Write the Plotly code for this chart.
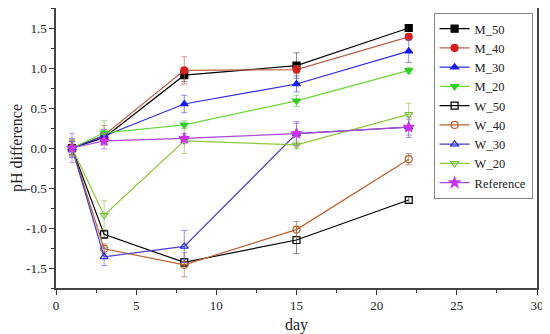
import plotly.graph_objects as go

days = [1, 3, 8, 15, 22]
series_names = ["M_50", "M_40", "M_30", "M_20", "W_50", "W_40", "W_30", "W_20", "Reference"]

m_50 = [0.0, 0.13, 0.91, 1.03, 1.50]
m_40 = [0.0, 0.16, 0.97, 0.98, 1.39]
m_30 = [0.0, 0.15, 0.55, 0.80, 1.21]
m_20 = [0.0, 0.19, 0.29, 0.59, 0.97]
w_50 = [0.0, -1.08, -1.43, -1.15, -0.65]
w_40 = [0.0, -1.26, -1.46, -1.02, -0.14]
w_30 = [0.0, -1.36, -1.23, 0.18, 0.26]
w_20 = [0.0, -0.84, 0.09, 0.04, 0.42]
reference = [0.0, 0.09, 0.12, 0.18, 0.26]

err_m_50 = [0.08, 0.06, 0.08, 0.16, 0.04]
err_m_40 = [0.10, 0.12, 0.17, 0.05, 0.04]
err_m_30 = [0.08, 0.08, 0.11, 0.10, 0.14]
err_m_20 = [0.06, 0.15, 0.05, 0.07, 0.04]
err_w_50 = [0.08, 0.05, 0.05, 0.17, 0.03]
err_w_40 = [0.10, 0.06, 0.15, 0.10, 0.07]
err_w_30 = [0.12, 0.11, 0.20, 0.13, 0.13]
err_w_20 = [0.10, 0.18, 0.16, 0.05, 0.14]
err_ref = [0.18, 0.10, 0.06, 0.15, 0.10]

values = [m_50, m_40, m_30, m_20, w_50, w_40, w_30, w_20, reference]
errors = [err_m_50, err_m_40, err_m_30, err_m_20, err_w_50, err_w_40, err_w_30, err_w_20, err_ref]

line_colors = ["#000000", "#b8604a", "#2a2ae6", "#6ad83a", "#000000", "#b8622e", "#4a3cc8", "#8cc83c", "#a64ad6"]
marker_colors = ["#000000", "#d42020", "#1a1aee", "#33cc22", "#000000", "#b8622e", "#2a2ad0", "#7cc23a", "#cc33ee"]
symbols = ["square", "circle", "triangle-up", "triangle-down", "square-open", "circle-open",
           "triangle-up-open", "triangle-down-open", "star"]
err_colors = ["rgba(90,90,90,0.7)", "rgba(170,120,90,0.7)", "rgba(90,90,200,0.7)", "rgba(130,190,90,0.7)",
              "rgba(90,90,90,0.7)", "rgba(170,120,90,0.7)", "rgba(100,100,200,0.7)", "rgba(150,190,90,0.7)",
              "rgba(170,110,210,0.7)"]

fig = go.Figure()
for name, y, e, lc, mc, sym, ec in zip(series_names, values, errors, line_colors, marker_colors, symbols, err_colors):
    fig.add_trace(go.Scatter(
        x=days, y=y, name=name, mode="lines+markers",
        line=dict(color=lc, width=1.2),
        marker=dict(symbol=sym, size=7 if sym != "star" else 8, color=mc,
                    line=dict(color=mc, width=1.2)),
        error_y=dict(type="data", array=e, visible=True, color=ec, thickness=1, width=3),
    ))

font_family = "Liberation Serif, DejaVu Serif, serif"
# page body has an 8px default margin, so the figure is sized/offset to compensate
fig.update_layout(
    width=542, height=326,
    margin=dict(l=48, r=13, t=0, b=46),
    paper_bgcolor="white", plot_bgcolor="white",
    font=dict(family=font_family, size=13, color="#222"),
    showlegend=True,
    legend=dict(x=0.785, y=0.982, xanchor="left", yanchor="top",
                bgcolor="white", bordercolor="#888", borderwidth=1,
                font=dict(family=font_family, size=12.5, color="#222"),
                tracegroupgap=0, itemwidth=30),
    xaxis=dict(range=[0, 30], tickvals=[0, 5, 10, 15, 20, 25, 30],
               ticks="outside", ticklen=5, tickwidth=1.2, tickcolor="#333",
               minor=dict(ticks="outside", ticklen=3, dtick=2.5, tickcolor="#333"),
               showline=True, linecolor="#444", linewidth=1.5, mirror=True,
               showgrid=False, zeroline=False, automargin=False,
               title=dict(text="day", font=dict(size=16), standoff=6),
               tickfont=dict(size=13)),
    yaxis=dict(range=[-1.75, 1.75], tickvals=[-1.5, -1.0, -0.5, 0.0, 0.5, 1.0, 1.5],
               ticktext=["-1.5", "-1.0", "-0.5", "0.0", "0.5", "1.0", "1.5"],
               ticks="outside", ticklen=5, tickwidth=1.2, tickcolor="#333",
               minor=dict(ticks="outside", ticklen=3, dtick=0.25, tickcolor="#333"),
               showline=True, linecolor="#444", linewidth=1.5, mirror=True,
               showgrid=False, zeroline=False, automargin=False,
               title=dict(text="pH difference", font=dict(size=16), standoff=6),
               tickfont=dict(size=13)),
)

fig.write_html("out.html")
